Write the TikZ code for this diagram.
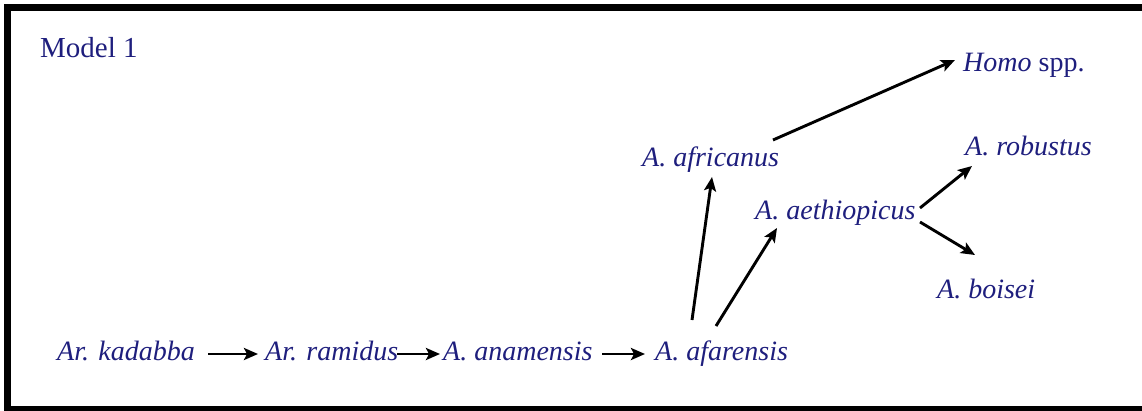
\documentclass[tikz,border=0pt]{standalone}
\usepackage{fontspec}
\setmainfont{Liberation Serif}
\usetikzlibrary{arrows.meta,calc}
\definecolor{navy}{RGB}{30,30,125}
\begin{document}
\begin{tikzpicture}[x=1pt,y=-1pt,
  sp/.style={anchor=base west,inner sep=0pt,text=navy,font=\fontsize{28}{34}\selectfont\itshape},
  arr/.style={line width=2.9pt,-{Stealth[length=14pt,width=12pt,inset=3pt]}},
  frame/.style={line width=7pt,black}]
\useasboundingbox (0,0) rectangle (1142,410);
\draw[frame] (1160,7) -- (7.5,7) -- (7.5,409) -- (1160,409);
\node[anchor=base west,inner sep=0pt,text=navy,font=\fontsize{29}{35}\selectfont] (title) at (40,57) {Model 1};
\node[sp] (kad) at (57,360) {Ar. kadabba};
\node[sp] (ram) at (265,360) {Ar. ramidus};
\node[sp] (ana) at (443,360) {A. anamensis};
\node[sp] (afa) at (655,360) {A. afarensis};
\node[sp] (afr) at (642,166) {A. africanus};
\node[sp] (aet) at (755,219) {A. aethiopicus};
\node[sp] (hom) at (963,71) {Homo\/ \upshape spp.};
\node[sp] (rob) at (965,155) {A. robustus};
\node[sp] (boi) at (937,298) {A. boisei};
\draw[arr] ($(kad.base west)+(151,-6)$) -- ($(ram.base west)+(-7,-6)$);
\draw[arr] ($(ram.base west)+(132,-6)$) -- ($(ana.base west)+(-3,-6)$);
\draw[arr] ($(ana.base west)+(159,-6)$) -- ($(afa.base west)+(-10,-6)$);
\draw[arr] ($(afa.base west)+(37,-40)$) -- ($(afr.base west)+(70,11)$);
\draw[arr] ($(afa.base west)+(61,-34)$) -- ($(aet.base west)+(22,9)$);
\draw[arr] ($(afr.base west)+(131,-26)$) -- ($(hom.base west)+(-8,-11)$);
\draw[arr] ($(aet.base west)+(165,-11)$) -- ($(rob.base west)+(7,11)$);
\draw[arr] ($(aet.base west)+(165,3)$) -- ($(boi.base west)+(38,-43)$);
\end{tikzpicture}
\end{document}
